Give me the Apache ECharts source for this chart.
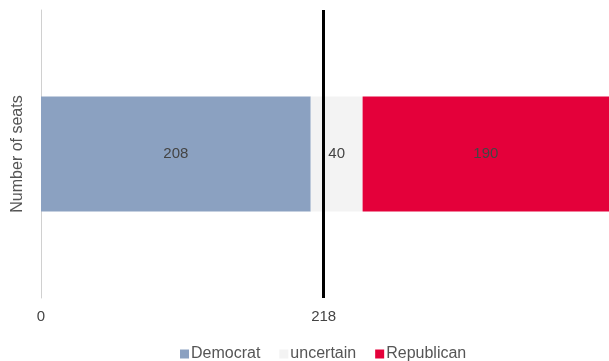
<!DOCTYPE html>
<html>
<head>
<meta charset="utf-8">
<script src="https://cdn.jsdelivr.net/npm/echarts@6/dist/echarts.min.js"></script>
<style>
  html, body { margin: 0; padding: 0; background: #fff; }
  #chart { width: 609px; height: 361px; }
</style>
</head>
<body>
<div id="chart"></div>
<script>
// Seat counts per party group
const categories = ['Seats'];
const democrat = [208];
const uncertain = [40];
const republican = [190];
const majority = 218;
const tickValues = [0, 218];
const totalSeats = 438;

const chart = echarts.init(document.getElementById('chart'), null, { renderer: 'canvas' });

const labelStyle = {
  show: true,
  position: 'inside',
  color: '#444',
  fontSize: 15,
  fontFamily: 'Liberation Sans, Arial, sans-serif'
};

chart.setOption({
  animation: false,
  textStyle: { fontFamily: 'Liberation Sans, Arial, sans-serif' },
  grid: { left: 41, right: 0, top: 10, bottom: 63, containLabel: false },
  legend: {
    left: 175,
    bottom: -6,
    itemWidth: 9,
    itemHeight: 9,
    itemGap: 19,
    icon: 'rect',
    textStyle: { color: '#555', fontSize: 16, padding: [0, 0, 0, -3] },
    data: ['Democrat', 'uncertain', 'Republican']
  },
  xAxis: {
    type: 'value',
    min: 0,
    max: totalSeats,
    splitLine: { show: false },
    axisLine: { show: false },
    axisTick: { show: false },
    axisLabel: {
      customValues: tickValues,
      color: '#444',
      fontSize: 15,
      margin: 11
    }
  },
  yAxis: {
    type: 'category',
    data: categories,
    name: 'Number of seats',
    nameLocation: 'middle',
    nameGap: 15,
    nameTextStyle: { color: '#555', fontSize: 16 },
    axisLine: { show: true, lineStyle: { color: '#d0d0d0', width: 1 } },
    axisTick: { show: false },
    axisLabel: { show: false }
  },
  series: [
    {
      name: 'Democrat',
      type: 'bar',
      stack: 'seats',
      data: democrat,
      barWidth: '40%',
      itemStyle: { color: '#8BA1C1' },
      label: labelStyle,
      markLine: {
        silent: true,
        symbol: ['none', 'none'],
        label: { show: false },
        lineStyle: { color: '#000', width: 3, type: 'solid' },
        data: [{ xAxis: majority }]
      }
    },
    {
      name: 'uncertain',
      type: 'bar',
      stack: 'seats',
      data: uncertain,
      itemStyle: { color: '#F3F3F3' },
      label: labelStyle
    },
    {
      name: 'Republican',
      type: 'bar',
      stack: 'seats',
      data: republican,
      itemStyle: { color: '#E4003A' },
      label: labelStyle
    }
  ]
});
</script>
</body>
</html>
